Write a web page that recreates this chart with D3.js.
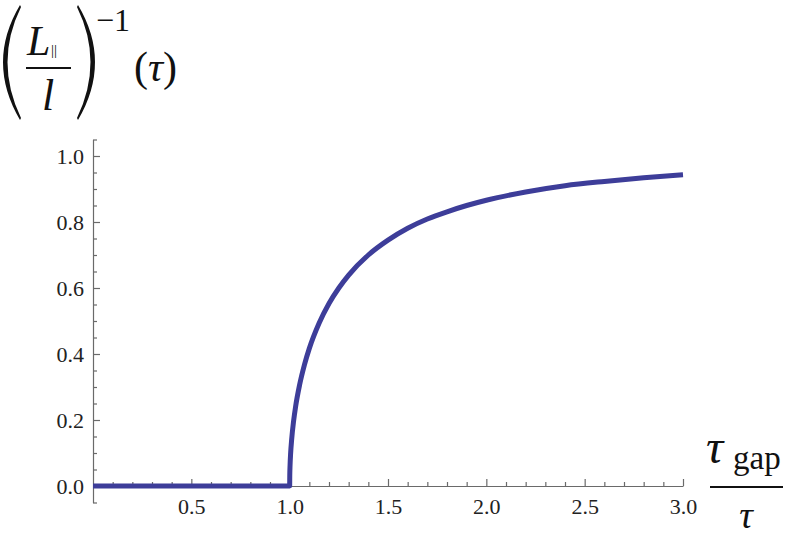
<!DOCTYPE html>
<html>
<head>
<meta charset="utf-8">
<script src="https://cdn.jsdelivr.net/npm/d3@7"></script>
<style>
html,body{margin:0;padding:0;background:#fff;}
svg{display:block;}
svg text{font-family:"Liberation Serif","Times New Roman",Times,"DejaVu Serif","Noto Serif",serif !important;}
</style>
</head>
<body>
<svg id="chart" width="789" height="542"></svg>
<script>
// ---- data ----
const curveX = [0, 0.5, 1.0, 1.0005, 1.002, 1.005, 1.01, 1.02, 1.03, 1.05, 1.075, 1.1, 1.15, 1.2, 1.25, 1.3, 1.4, 1.5, 1.6, 1.7, 1.8, 1.9, 2.0, 2.2, 2.4, 2.6, 2.8, 3.0];
const curveY = [0, 0, 0, 0.032, 0.063, 0.100, 0.140, 0.197, 0.240, 0.305, 0.367, 0.417, 0.494, 0.553, 0.600, 0.639, 0.700, 0.745, 0.781, 0.809, 0.831, 0.850, 0.866, 0.891, 0.910, 0.923, 0.934, 0.943];
const xMajorTicks = [0.5, 1.0, 1.5, 2.0, 2.5, 3.0];
const xMinorTicks = [0.1, 0.2, 0.3, 0.4, 0.6, 0.7, 0.8, 0.9, 1.1, 1.2, 1.3, 1.4, 1.6, 1.7, 1.8, 1.9, 2.1, 2.2, 2.3, 2.4, 2.6, 2.7, 2.8, 2.9];
const yMajorTicks = [0.0, 0.2, 0.4, 0.6, 0.8, 1.0];
const yMinorTicks = [-0.05, 0.05, 0.1, 0.15, 0.25, 0.3, 0.35, 0.45, 0.5, 0.55, 0.65, 0.7, 0.75, 0.85, 0.9, 0.95, 1.05];

const SERIF = '"Liberation Serif","Times New Roman",Times,"DejaVu Serif","Noto Serif",serif';
const svg = d3.select("#chart");
const x = d3.scaleLinear().domain([0, 3]).range([93, 683]);
const y = d3.scaleLinear().domain([-0.05, 1.05]).range([502.5, 139.5]);
const axisColor = "#6a6a6a";
const labelColor = "#222";

// y axis
const gy = svg.append("g").attr("transform", `translate(${x(0)},0)`);
gy.call(d3.axisLeft(y).tickValues(yMajorTicks).tickSizeInner(-7).tickSizeOuter(0).tickPadding(9).tickFormat(d3.format(".1f")));
const gym = svg.append("g").attr("transform", `translate(${x(0)},0)`);
gym.call(d3.axisLeft(y).tickValues(yMinorTicks).tickSizeInner(-4).tickSizeOuter(0).tickFormat(""));
gym.select(".domain").remove();

// x axis
const gx = svg.append("g").attr("transform", `translate(0,${y(0)})`);
gx.call(d3.axisBottom(x).tickValues(xMajorTicks).tickSizeInner(-7).tickSizeOuter(0).tickPadding(12).tickFormat(d3.format(".1f")));
const gxm = svg.append("g").attr("transform", `translate(0,${y(0)})`);
gxm.call(d3.axisBottom(x).tickValues(xMinorTicks).tickSizeInner(-4).tickSizeOuter(0).tickFormat(""));
gxm.select(".domain").remove();

svg.selectAll("g").attr("font-family", SERIF);
svg.selectAll(".domain, .tick line").attr("stroke", axisColor).attr("stroke-width", 1.2);
svg.selectAll(".tick text").attr("fill", labelColor).attr("font-size", 22);

// curve
const pts = curveX.map((d, i) => [d, curveY[i]]);
svg.append("path")
  .datum(pts)
  .attr("fill", "none")
  .attr("stroke", "#3d3d99")
  .attr("stroke-width", 5)
  .attr("stroke-linejoin", "round")
  .attr("d", d3.line().x(d => x(d[0])).y(d => y(d[1])).curve(d3.curveMonotoneX));

// y-axis label: (L_|| / l)^-1 (tau)
const ink = "#111";
const yl = svg.append("g").attr("font-family", SERIF).attr("fill", ink);
yl.append("path").attr("d", "M20,5 Q-14,62 20,120 L21,118 Q-6,62 21,7 Z");
yl.append("path").attr("d", "M78,5 Q112,62 78,120 L77,118 Q104,62 77,7 Z");
yl.append("text").attr("x", 27).attr("y", 55).attr("font-style", "italic").attr("font-size", 42).text("L");
yl.append("text").attr("x", 51).attr("y", 55).attr("font-size", 15).text("||");
yl.append("line").attr("x1", 26).attr("x2", 71).attr("y1", 68).attr("y2", 68).attr("stroke", ink).attr("stroke-width", 2);
yl.append("text").attr("x", 48).attr("y", 110).attr("text-anchor", "middle").attr("font-style", "italic").attr("font-size", 44).text("l");
yl.append("text").attr("x", 96).attr("y", 31).attr("font-size", 32).text("\u22121");
const tp = yl.append("text").attr("x", 134).attr("y", 81).attr("font-size", 42);
tp.append("tspan").text("(");
tp.append("tspan").attr("font-style", "italic").text("τ");
tp.append("tspan").text(")");

// x-axis label: tau_gap / tau
const xl = svg.append("g").attr("font-family", SERIF).attr("fill", ink);
xl.append("text").attr("x", 706).attr("y", 463).attr("font-style", "italic").attr("font-size", 48).text("τ");
xl.append("text").attr("x", 733).attr("y", 469).attr("font-size", 33).text("gap");
xl.append("line").attr("x1", 710).attr("x2", 783).attr("y1", 487).attr("y2", 487).attr("stroke", ink).attr("stroke-width", 2);
xl.append("text").attr("x", 746).attr("y", 528).attr("text-anchor", "middle").attr("font-style", "italic").attr("font-size", 38).text("τ");
</script>
</body>
</html>
